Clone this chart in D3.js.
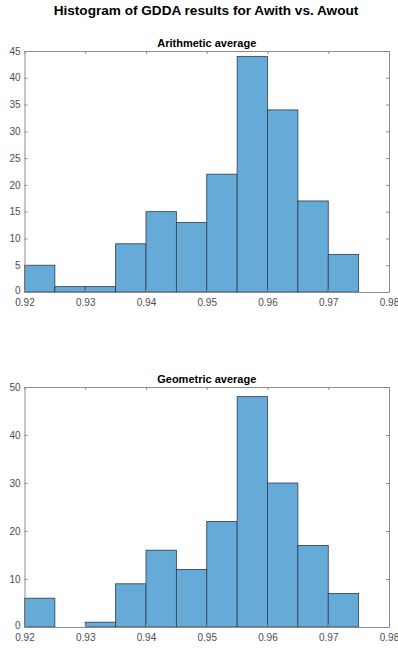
<!DOCTYPE html>
<html><head><meta charset="utf-8">
<script src="https://cdn.jsdelivr.net/npm/d3@7"></script>
<style>body{margin:0;background:#fff}svg{display:block}</style>
</head><body>
<script>
const binEdges = [0.92,0.925,0.93,0.935,0.94,0.945,0.95,0.955,0.96,0.965,0.97,0.975];
const arithCounts = [5,1,1,9,15,13,22,44,34,17,7];
const geoCounts = [6,0,1,9,16,12,22,48,30,17,7];
const xTicks = [0.92,0.93,0.94,0.95,0.96,0.97,0.98];
const arithYTicks = [0,5,10,15,20,25,30,35,40,45];
const geoYTicks = [0,10,20,30,40,50];
const mainTitle = "Histogram of GDDA results for Awith vs. Awout";
const panels = [
  {title:"Arithmetic average", counts:arithCounts, yMax:45, yTicks:arithYTicks, top:51, bottom:292},
  {title:"Geometric average", counts:geoCounts, yMax:50, yTicks:geoYTicks, top:387, bottom:627}
];
const W=398,H=650, left=24.5, right=389;
const svg=d3.select("body").append("svg").attr("width",W).attr("height",H);
const font="'Liberation Sans', Arial, Helvetica, sans-serif";
svg.append("text").attr("x",206).attr("y",15).attr("text-anchor","middle")
  .attr("font-family",font).attr("font-weight","bold").attr("font-size",13.6).attr("fill","#000").text(mainTitle);

panels.forEach(p=>{
  const x=d3.scaleLinear().domain([0.92,0.98]).range([left,right]);
  const y=d3.scaleLinear().domain([0,p.yMax]).range([p.bottom,p.top]);
  const g=svg.append("g");
  const bins=p.counts.map((c,i)=>({x0:binEdges[i],x1:binEdges[i+1],c}));
  g.selectAll("rect").data(bins.filter(b=>b.c>0)).join("rect")
    .attr("x",d=>x(d.x0)).attr("width",d=>x(d.x1)-x(d.x0))
    .attr("y",d=>y(d.c)).attr("height",d=>y(0)-y(d.c))
    .attr("fill","#66aad7").attr("stroke","#2b3d4f").attr("stroke-width",0.8);
  const tl=3;
  const ax=g.append("g").attr("transform",`translate(0,${p.bottom})`)
    .call(d3.axisBottom(x).tickValues(xTicks).tickFormat(d3.format(".2f")).tickSizeInner(-tl).tickSizeOuter(0).tickPadding(7));
  const axT=g.append("g").attr("transform",`translate(0,${p.top})`)
    .call(d3.axisTop(x).tickValues(xTicks).tickFormat("").tickSizeInner(-tl).tickSizeOuter(0));
  const ay=g.append("g").attr("transform",`translate(${left},0)`)
    .call(d3.axisLeft(y).tickValues(p.yTicks).tickFormat(d3.format("d")).tickSizeInner(-tl).tickSizeOuter(0).tickPadding(4));
  ay.selectAll(".tick text").attr("dy", d => d === 0 ? "0.15em" : "0.32em");
  const ayR=g.append("g").attr("transform",`translate(${right},0)`)
    .call(d3.axisRight(y).tickValues(p.yTicks).tickFormat("").tickSizeInner(-tl).tickSizeOuter(0));
  [ax,axT,ay,ayR].forEach(a=>{
    a.select(".domain").attr("stroke","#8c8c8c").attr("stroke-width",1);
    a.selectAll(".tick line").attr("stroke","#8c8c8c");
    a.selectAll(".tick text").attr("font-family",font).attr("font-size",10).attr("fill","#4d4d4d");
  });
  g.append("text").attr("x",(left+right)/2).attr("y",p.top-4).attr("text-anchor","middle")
    .attr("font-family",font).attr("font-weight","bold").attr("font-size",11).attr("fill","#000").text(p.title);
});
</script>
</body></html>
